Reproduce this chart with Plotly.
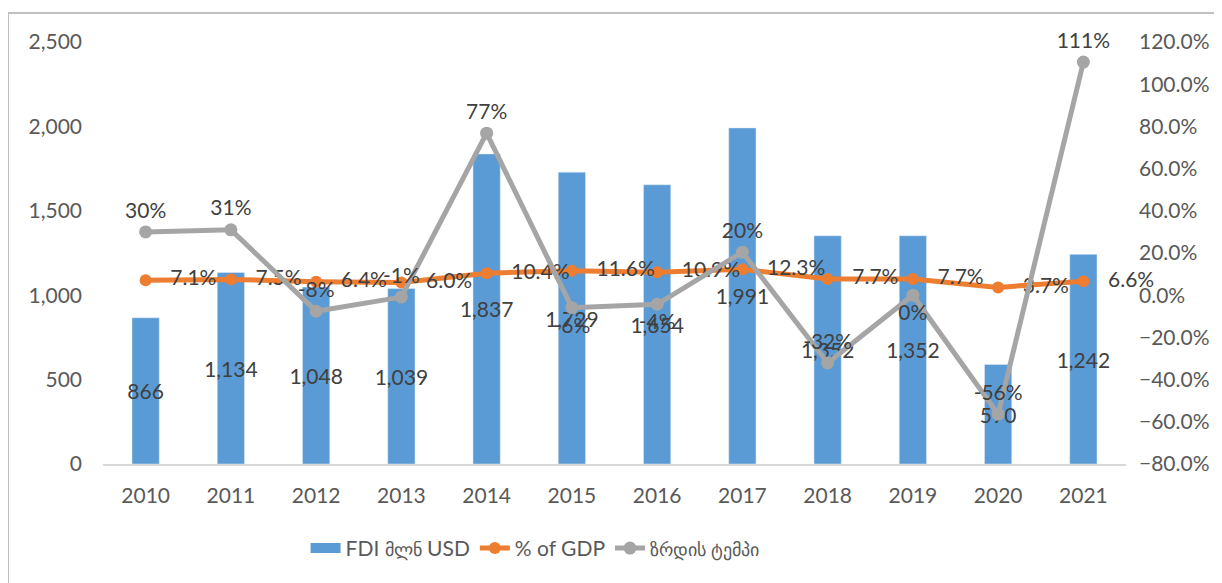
import plotly.graph_objects as go

years = ["2010", "2011", "2012", "2013", "2014", "2015", "2016", "2017", "2018", "2019", "2020", "2021"]
fdi = [866, 1134, 1048, 1039, 1837, 1729, 1654, 1991, 1352, 1352, 590, 1242]
gdp_share = [7.1, 7.5, 6.4, 6.0, 10.4, 11.6, 10.9, 12.3, 7.7, 7.7, 3.7, 6.6]
growth = [30.0, 31.0, -7.6, -0.9, 76.8, -5.9, -4.3, 20.4, -32.1, 0.0, -56.4, 110.5]
growth_pos = ["top center", "top center", "top center", "top center", "top center", "bottom center",
              "bottom center", "top center", "top center", "bottom center", "top center", "top center"]

FONT = "Lato, 'Open Sans', sans-serif"
TXT = "#404040"
TICK = "#595959"
BLUE = "#5B9BD5"

fig = go.Figure()

fig.add_trace(go.Bar(
    name="FDI მლნ USD",
    x=years,
    y=fdi,
    marker=dict(color=BLUE),
    texttemplate="%{y:,.0f}",
    textposition="inside",
    insidetextanchor="middle",
    textangle=0,
    constraintext="none",
    textfont=dict(color=TXT, size=21, family=FONT),
    showlegend=False,
))

# legend entry for the bars, drawn as a wide block like the original
fig.add_trace(go.Scatter(
    name="FDI <span style='font-size:18px'>მლნ</span> USD",
    x=[None],
    y=[None],
    mode="lines",
    line=dict(color=BLUE, width=13),
))

fig.add_trace(go.Scatter(
    name="% of GDP",
    x=years,
    y=gdp_share,
    yaxis="y2",
    mode="lines+markers+text",
    line=dict(color="#ED7D31", width=5),
    marker=dict(color="#ED7D31", size=12),
    texttemplate="\u00a0\u00a0\u00a0%{y:.1f}%",
    textposition="middle right",
    textfont=dict(color=TXT, size=21, family=FONT),
    cliponaxis=False,
))

fig.add_trace(go.Scatter(
    name="<span style='font-size:18px'>ზრდის ტემპი</span>",
    x=years,
    y=growth,
    yaxis="y2",
    mode="lines+markers+text",
    line=dict(color="#A5A5A5", width=5),
    marker=dict(color="#A5A5A5", size=13),
    texttemplate="%{y:.0f}%",
    textposition=growth_pos,
    textfont=dict(color=TXT, size=21, family=FONT),
    cliponaxis=False,
))

fig.update_layout(
    width=1214,
    height=575,
    margin=dict(l=95, r=96, t=34, b=119, autoexpand=False),
    paper_bgcolor="white",
    plot_bgcolor="white",
    font=dict(family=FONT, color=TICK, size=21),
    bargap=0.68,
    showlegend=True,
    legend=dict(
        orientation="h",
        x=0.198,
        xanchor="left",
        y=-0.2,
        yanchor="middle",
        font=dict(size=21, color=TICK),
        traceorder="normal",
    ),
    xaxis=dict(
        range=[-0.5, len(years) - 0.5],
        showgrid=False,
        showline=True,
        linecolor="#D9D9D9",
        linewidth=2,
        ticks="",
        ticklabelstandoff=12,
        automargin=False,
    ),
    yaxis=dict(
        range=[0, 2500],
        dtick=500,
        tickformat=",",
        showgrid=False,
        zeroline=False,
        showline=False,
        ticklabelstandoff=20,
        automargin=False,
    ),
    yaxis2=dict(
        range=[-80, 120],
        dtick=20,
        tickformat=".1f",
        ticksuffix="%",
        overlaying="y",
        side="right",
        showgrid=False,
        zeroline=False,
        showline=False,
        ticklabelstandoff=12,
        automargin=False,
    ),
    shapes=[dict(
        type="rect",
        xref="paper",
        yref="paper",
        x0=-95 / 1023,
        x1=1.2,
        y0=-0.5,
        y1=1 + 29 / 422,
        line=dict(color="#BFBFBF", width=2),
        fillcolor="rgba(0,0,0,0)",
        layer="below",
    )],
)

fig.write_html("out.html")
